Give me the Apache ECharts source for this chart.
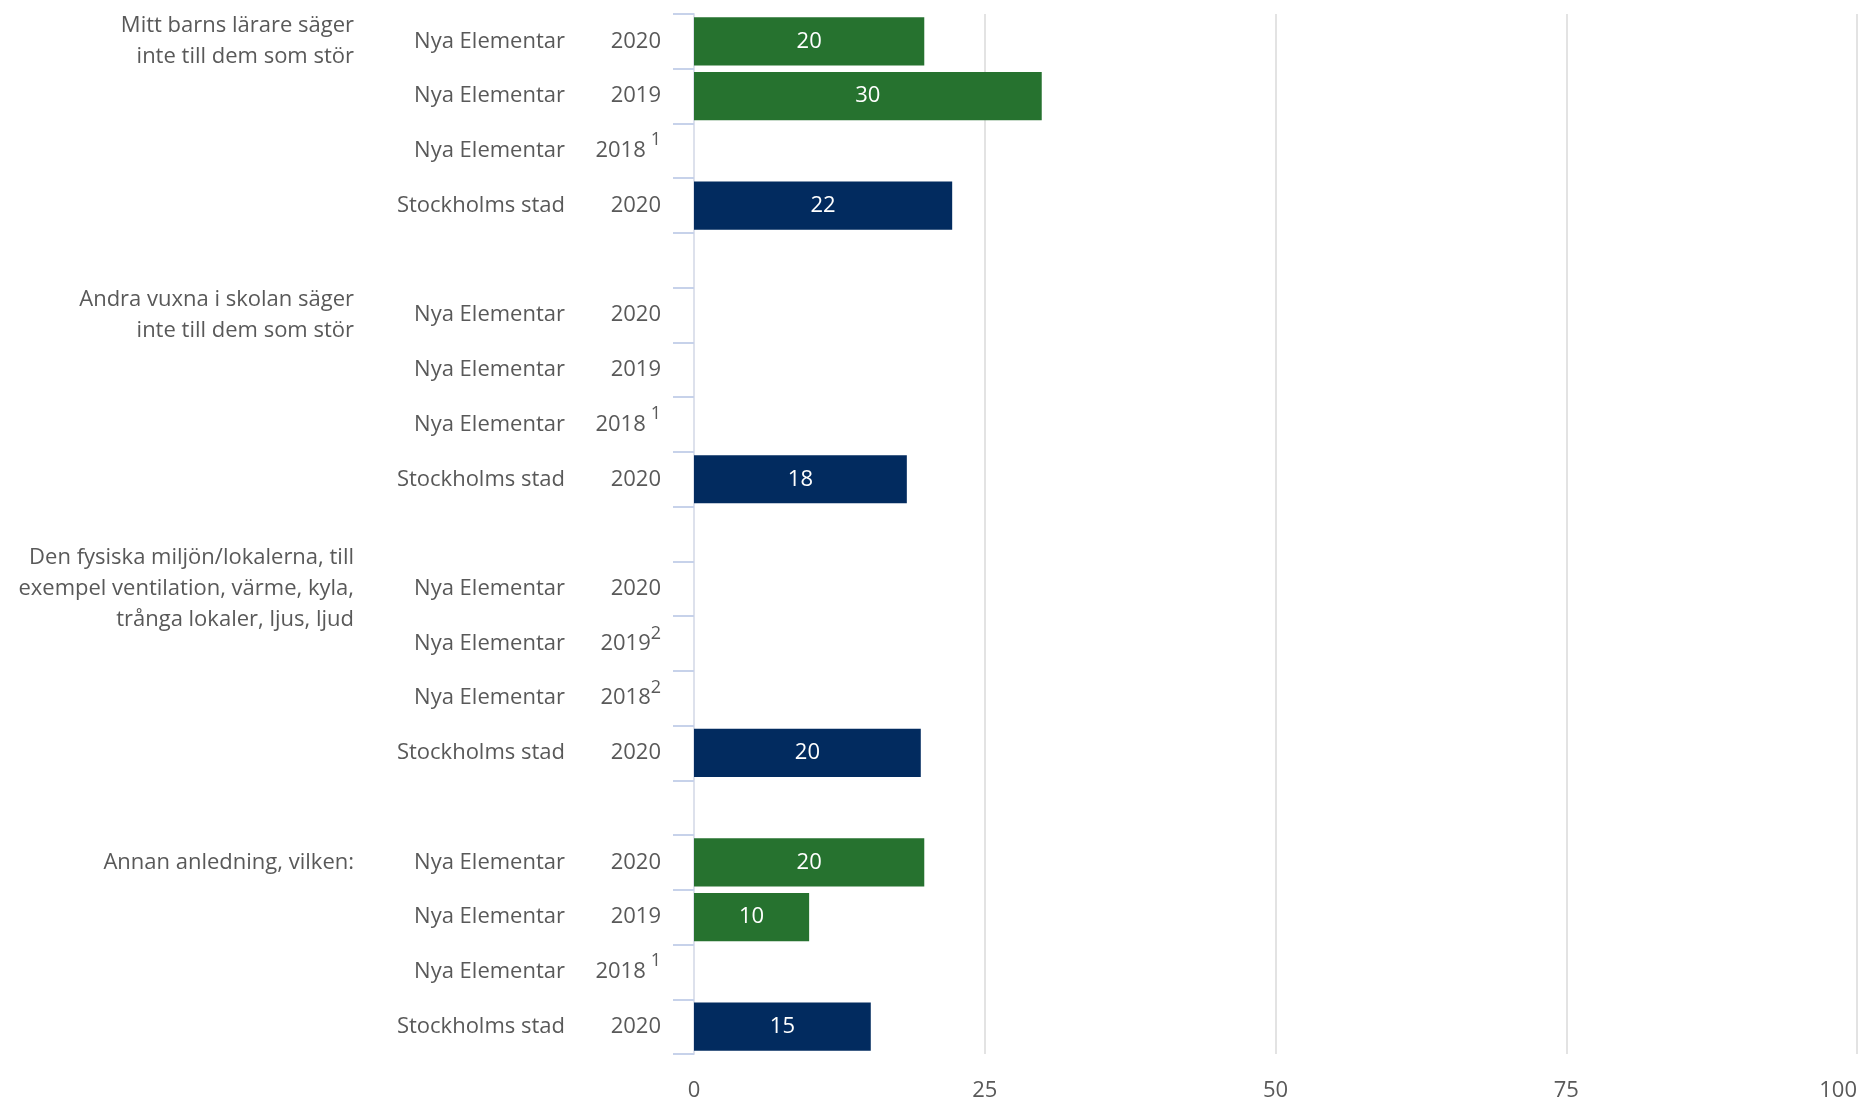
<!DOCTYPE html>
<html>
<head>
<meta charset="utf-8">
<script src="https://cdn.jsdelivr.net/npm/echarts@6/dist/echarts.min.js"></script>
<style>
  html, body { margin: 0; padding: 0; background: #fff; }
  #chart { width: 1858px; height: 1098px; }
</style>
</head>
<body>
<div id="chart"></div>
<script>
// question groups (left column)
const groups = [
  'Mitt barns lärare säger\ninte till dem som stör',
  'Andra vuxna i skolan säger\ninte till dem som stör',
  'Den fysiska miljön/lokalerna, till\nexempel ventilation, värme, kyla,\ntrånga lokaler, ljus, ljud',
  'Annan anledning, vilken:'
];
const rowSources = ['Nya Elementar', 'Nya Elementar', 'Nya Elementar', 'Stockholms stad'];
const rowYears = ['2020', '2019', '2018', '2020'];
const yearNotes = [
  ['', '', '1', ''],
  ['', '', '1', ''],
  ['', '2', '2', ''],
  ['', '', '1', '']
];
// Nya Elementar 2020, 2019, 2018 per group
const nyaValues = [
  [19.8, 29.9, null],
  [null, null, null],
  [null, null, null],
  [19.8, 9.9, null]
];
// Stockholms stad 2020 per group
const stockholmValues = [22.2, 18.3, 19.5, 15.2];
const xTicks = [0, 25, 50, 75, 100];

const GREEN = '#26722f';
const NAVY = '#022b5f';
const TEXT = '#595959';
const FONT = 'Open Sans';
const FS = 22;

// build rows: 4 per group, plus a blank row between groups
let rows = [];
groups.forEach((g, gi) => {
  rowSources.forEach((src, ri) => {
    rows.push({
      group: ri === 0 ? g : '',
      source: src,
      year: rowYears[ri],
      note: yearNotes[gi][ri],
      nya: ri < 3 ? nyaValues[gi][ri] : null,
      sthlm: ri === 3 ? stockholmValues[gi] : null,
    });
  });
  if (gi < groups.length - 1) {
    rows.push({ group: '', source: '', year: '', note: '', nya: null, sthlm: null });
  }
});
const cats = rows.map((r, i) => String(i));

let chart = echarts.init(document.getElementById('chart'));

const hidden = { show: false };
let labelAxis = (margin, formatter, extra) => ({
  type: 'category',
  data: cats,
  inverse: true,
  position: 'left',
  axisLine: hidden,
  axisTick: hidden,
  splitLine: hidden,
  axisLabel: Object.assign({
    interval: 0,
    margin: margin,
    color: TEXT,
    fontFamily: FONT,
    fontSize: FS,
    formatter: formatter,
  }, extra || {}),
});

let barLabel = {
  show: true,
  position: 'inside',
  color: '#fff',
  fontFamily: FONT,
  fontSize: FS,
  formatter: (p) => Math.round(p.value),
};

let option = {
  animation: false,
  grid: { left: 694, right: 1, top: 14, bottom: 44, outerBoundsMode: 'none' },
  xAxis: {
    type: 'value',
    min: 0,
    max: 100,
    interval: 25,
    axisLine: hidden,
    axisTick: hidden,
    splitLine: { lineStyle: { color: '#e3e3e3', width: 2 } },
    axisLabel: {
      color: TEXT,
      fontFamily: FONT,
      fontSize: FS,
      margin: 26,
      alignMaxLabel: 'right',
      formatter: (v) => (xTicks.indexOf(v) >= 0 ? String(v) : ''),
    },
  },
  yAxis: [
    {
      type: 'category',
      data: cats,
      inverse: true,
      axisLine: { lineStyle: { color: '#dde1ec', width: 2 } },
      axisTick: { show: true, length: 21, lineStyle: { color: '#c7d2ea', width: 2 } },
      splitLine: hidden,
      axisLabel: {
        interval: 0,
        margin: 33,
        color: TEXT,
        fontFamily: FONT,
        fontSize: FS,
        formatter: (v) => {
          let r = rows[+v];
          if (!r.year) return '';
          if (!r.note) return '{y|' + r.year + '}';
          return '{y|' + r.year + '}{' + (r.note === '1' ? 'a' : 'b') + '|' + r.note + '}';
        },
        rich: {
          y: { color: TEXT, fontFamily: FONT, fontSize: FS },
          a: { color: TEXT, fontFamily: FONT, fontSize: 18, padding: [0, 0, 22, 5] },
          b: { color: TEXT, fontFamily: FONT, fontSize: 18, padding: [0, 0, 20, 0] },
        },
      },
    },
    labelAxis(129, (v) => rows[+v].source),
    labelAxis(340, (v) => rows[+v].group, { lineHeight: 31, align: 'right' }),
  ],
  series: [
    {
      name: 'Nya Elementar',
      type: 'bar',
      stack: 'total',
      yAxisIndex: 0,
      barCategoryGap: '12%',
      itemStyle: { color: GREEN },
      label: barLabel,
      data: rows.map((r) => r.nya),
    },
    {
      name: 'Stockholms stad',
      type: 'bar',
      stack: 'total',
      yAxisIndex: 0,
      barCategoryGap: '12%',
      itemStyle: { color: NAVY },
      label: barLabel,
      data: rows.map((r) => r.sthlm),
    },
  ],
};

option && chart.setOption(option);
</script>
</body>
</html>
